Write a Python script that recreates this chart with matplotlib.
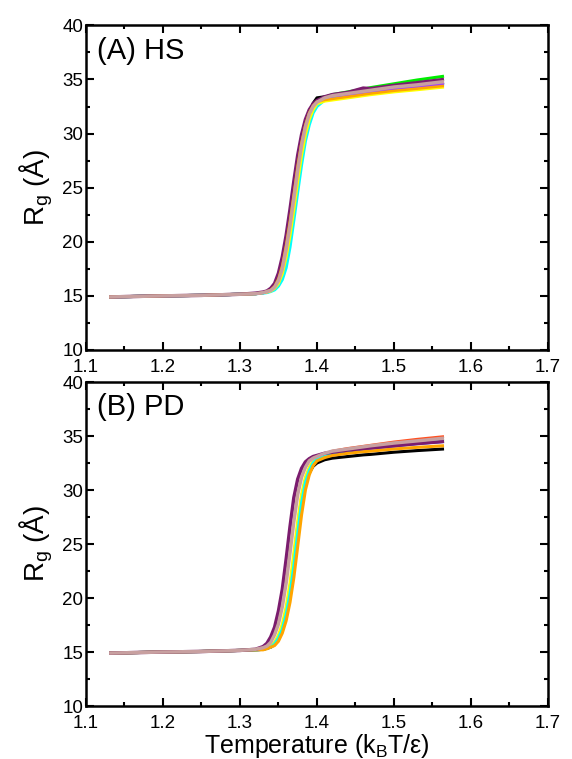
import matplotlib
matplotlib.use('Agg')
import matplotlib.pyplot as plt
from matplotlib.ticker import MultipleLocator

plt.rcParams['font.family'] = ['Liberation Sans', 'DejaVu Sans']
plt.rcParams['mathtext.default'] = 'regular'

# common temperature grid (kBT/eps)
temp = [1.13, 1.20, 1.25, 1.30, 1.32,
        1.33, 1.335, 1.34, 1.345, 1.35,
        1.355, 1.36, 1.365, 1.37, 1.375,
        1.38, 1.385, 1.39, 1.395, 1.40,
        1.41, 1.42, 1.44, 1.46, 1.47,
        1.50, 1.53, 1.565]

# (A) HS  -- Rg in Angstrom
hs_black = [14.9, 15.0, 15.05, 15.15, 15.2, 15.3, 15.4, 15.5, 15.75, 16.3,
            17.3, 19.1, 21.3, 23.8, 26.4, 28.7, 30.5, 31.9, 32.8, 33.3,
            33.4, 33.5, 33.7, 33.9, 34.0, 34.25, 34.45, 34.7]
hs_green = [14.9, 15.0, 15.05, 15.15, 15.2, 15.3, 15.4, 15.5, 15.8, 16.4,
            17.5, 19.3, 21.5, 24.0, 26.6, 28.9, 30.6, 31.8, 32.5, 32.9,
            33.35, 33.6, 33.85, 34.1, 34.25, 34.6, 34.95, 35.3]
hs_blue = [14.9, 15.0, 15.05, 15.15, 15.2, 15.3, 15.35, 15.5, 15.75, 16.3,
           17.3, 19.0, 21.1, 23.5, 26.1, 28.5, 30.3, 31.6, 32.4, 32.85,
           33.25, 33.45, 33.65, 33.85, 33.95, 34.25, 34.45, 34.7]
hs_cyan = [14.9, 15.0, 15.05, 15.15, 15.2, 15.25, 15.3, 15.4, 15.55, 15.9,
           16.5, 17.6, 19.5, 22.0, 24.6, 27.1, 29.3, 30.8, 31.9, 32.5,
           33.1, 33.35, 33.6, 33.8, 33.9, 34.2, 34.4, 34.6]
hs_violet = [14.9, 15.0, 15.05, 15.15, 15.2, 15.3, 15.35, 15.5, 15.75, 16.3,
             17.3, 19.0, 21.1, 23.5, 26.1, 28.5, 30.3, 31.6, 32.4, 32.85,
             33.25, 33.45, 33.6, 33.7, 33.85, 34.15, 34.35, 34.55]
hs_yellow = [14.9, 15.0, 15.05, 15.15, 15.2, 15.3, 15.35, 15.45, 15.7, 16.15,
             17.05, 18.6, 20.6, 23.0, 25.6, 28.0, 29.9, 31.3, 32.2, 32.75,
             33.0, 33.1, 33.3, 33.5, 33.6, 33.85, 34.05, 34.3]
hs_purple = [14.9, 15.0, 15.05, 15.15, 15.25, 15.35, 15.45, 15.7, 16.15, 17.1,
             18.6, 20.6, 23.0, 25.6, 28.0, 29.9, 31.3, 32.2, 32.75, 33.05,
             33.4, 33.6, 33.8, 34.2, 34.15, 34.45, 34.7, 35.0]
hs_orange = [14.9, 15.0, 15.05, 15.15, 15.2, 15.3, 15.4, 15.55, 15.9, 16.6,
             17.85, 19.75, 22.0, 24.5, 27.1, 29.25, 30.85, 31.95, 32.6, 32.95,
             33.1, 33.2, 33.4, 33.6, 33.7, 33.95, 34.15, 34.4]
hs_rosy = [14.9, 15.0, 15.05, 15.15, 15.2, 15.3, 15.4, 15.5, 15.8, 16.4,
           17.5, 19.3, 21.5, 24.0, 26.6, 28.9, 30.6, 31.8, 32.5, 32.9,
           33.3, 33.5, 33.7, 33.9, 34.0, 34.3, 34.5, 34.8]

# (B) PD
pd_black = [14.9, 15.0, 15.05, 15.15, 15.2, 15.25, 15.35, 15.45, 15.7, 16.2,
            17.0, 18.4, 20.3, 22.9, 25.8, 28.5, 30.5, 31.6, 32.2, 32.5,
            32.8, 32.95, 33.1, 33.25, 33.3, 33.5, 33.65, 33.8]
pd_blue = [14.9, 15.0, 15.05, 15.15, 15.2, 15.25, 15.35, 15.5, 15.8, 16.4,
           17.2, 18.7, 20.7, 23.4, 26.3, 29.0, 30.8, 31.9, 32.6, 32.9,
           33.2, 33.4, 33.6, 33.8, 33.9, 34.1, 34.3, 34.5]
pd_red = [14.9, 15.0, 15.05, 15.15, 15.2, 15.3, 15.4, 15.5, 15.8, 16.4,
          17.3, 18.9, 21.0, 23.8, 26.8, 29.4, 31.0, 32.0, 32.6, 32.95,
          33.35, 33.6, 33.85, 34.05, 34.15, 34.45, 34.7, 34.95]
pd_yellow = [14.9, 15.0, 15.05, 15.15, 15.2, 15.3, 15.4, 15.55, 15.9, 16.6,
             17.6, 19.2, 21.4, 24.2, 27.1, 29.6, 31.2, 32.1, 32.7, 32.95,
             33.3, 33.5, 33.7, 33.85, 33.95, 34.15, 34.35, 34.6]
pd_cyan = [14.9, 15.0, 15.05, 15.15, 15.2, 15.25, 15.35, 15.45, 15.75, 16.3,
           17.1, 18.5, 20.4, 23.0, 26.0, 28.8, 30.7, 31.8, 32.5, 32.85,
           33.2, 33.45, 33.7, 33.9, 34.0, 34.25, 34.45, 34.7]
pd_orange = [14.9, 15.0, 15.05, 15.15, 15.2, 15.2, 15.3, 15.45, 15.6, 16.0,
             16.75, 17.9, 19.6, 21.9, 24.8, 27.7, 30.0, 31.4, 32.25, 32.7,
             33.0, 33.2, 33.4, 33.55, 33.6, 33.8, 33.95, 34.1]
pd_purple = [14.9, 15.0, 15.05, 15.15, 15.25, 15.5, 15.8, 16.4, 17.3, 18.8,
             20.8, 23.6, 26.6, 29.3, 31.0, 32.0, 32.6, 32.9, 33.1, 33.2,
             33.4, 33.5, 33.7, 33.85, 33.9, 34.1, 34.3, 34.5]
pd_rosy = [14.9, 15.0, 15.05, 15.15, 15.25, 15.4, 15.55, 15.9, 16.6, 17.6,
           19.2, 21.4, 24.2, 27.1, 29.6, 31.2, 32.1, 32.7, 32.95, 33.1,
           33.4, 33.6, 33.8, 34.0, 34.1, 34.35, 34.55, 34.8]

c_purple = '#7b1c6e'
c_rosy = '#c8a0a0'

hs_lines = [(hs_black, 'black', 2.2), (hs_green, '#00ee00', 2.2),
            (hs_blue, '#1030ff', 2.2), (hs_cyan, '#00ffff', 2.2),
            (hs_violet, '#a040ff', 2.2), (hs_yellow, '#ffff00', 2.2),
            (hs_purple, c_purple, 2.5), (hs_orange, '#ffa500', 1.8),
            (hs_rosy, c_rosy, 2.5)]
pd_lines = [(pd_black, 'black', 2.2), (pd_blue, '#1030ff', 2.2),
            (pd_red, '#ff5020', 2.0), (pd_yellow, '#ffff00', 2.2),
            (pd_cyan, '#00ffff', 2.2), (pd_orange, '#ffa500', 2.2),
            (pd_purple, c_purple, 2.5), (pd_rosy, c_rosy, 2.5)]

fig = plt.figure(figsize=(5.72, 7.59), dpi=100)
ax1 = fig.add_axes([0.1503, 0.5389, 0.8077, 0.4277])
ax2 = fig.add_axes([0.1503, 0.0698, 0.8077, 0.4269])

for ax, lines, label in [(ax1, hs_lines, '(A) HS'), (ax2, pd_lines, '(B) PD')]:
    for vals, col, lw in lines:
        ax.plot(temp, vals, color=col, lw=lw, solid_capstyle='butt')
    ax.set_xlim(1.1, 1.7)
    ax.set_ylim(10, 40)
    ax.xaxis.set_major_locator(MultipleLocator(0.1))
    ax.xaxis.set_minor_locator(MultipleLocator(0.05))
    ax.yaxis.set_major_locator(MultipleLocator(5))
    ax.yaxis.set_minor_locator(MultipleLocator(2.5))
    ax.tick_params(which='both', direction='in', top=True, right=True,
                   width=1.5, labelsize=13.5)
    ax.tick_params(which='major', length=6)
    ax.tick_params(which='minor', length=3)
    ax.tick_params(axis='y', pad=2)
    ax.tick_params(axis='x', pad=6.5)
    for sp in ax.spines.values():
        sp.set_linewidth(1.8)
    ax.set_ylabel(r'R$_\mathregular{g}$ (Å)', fontsize=20, labelpad=5)
    ax.text(0.024, 0.965, label, transform=ax.transAxes, va='top',
            ha='left', fontsize=21)

ax2.set_xlabel(r'Temperature (k$_\mathregular{B}$T/ε)', fontsize=18, labelpad=0)

fig.savefig('out.png', dpi=100)
